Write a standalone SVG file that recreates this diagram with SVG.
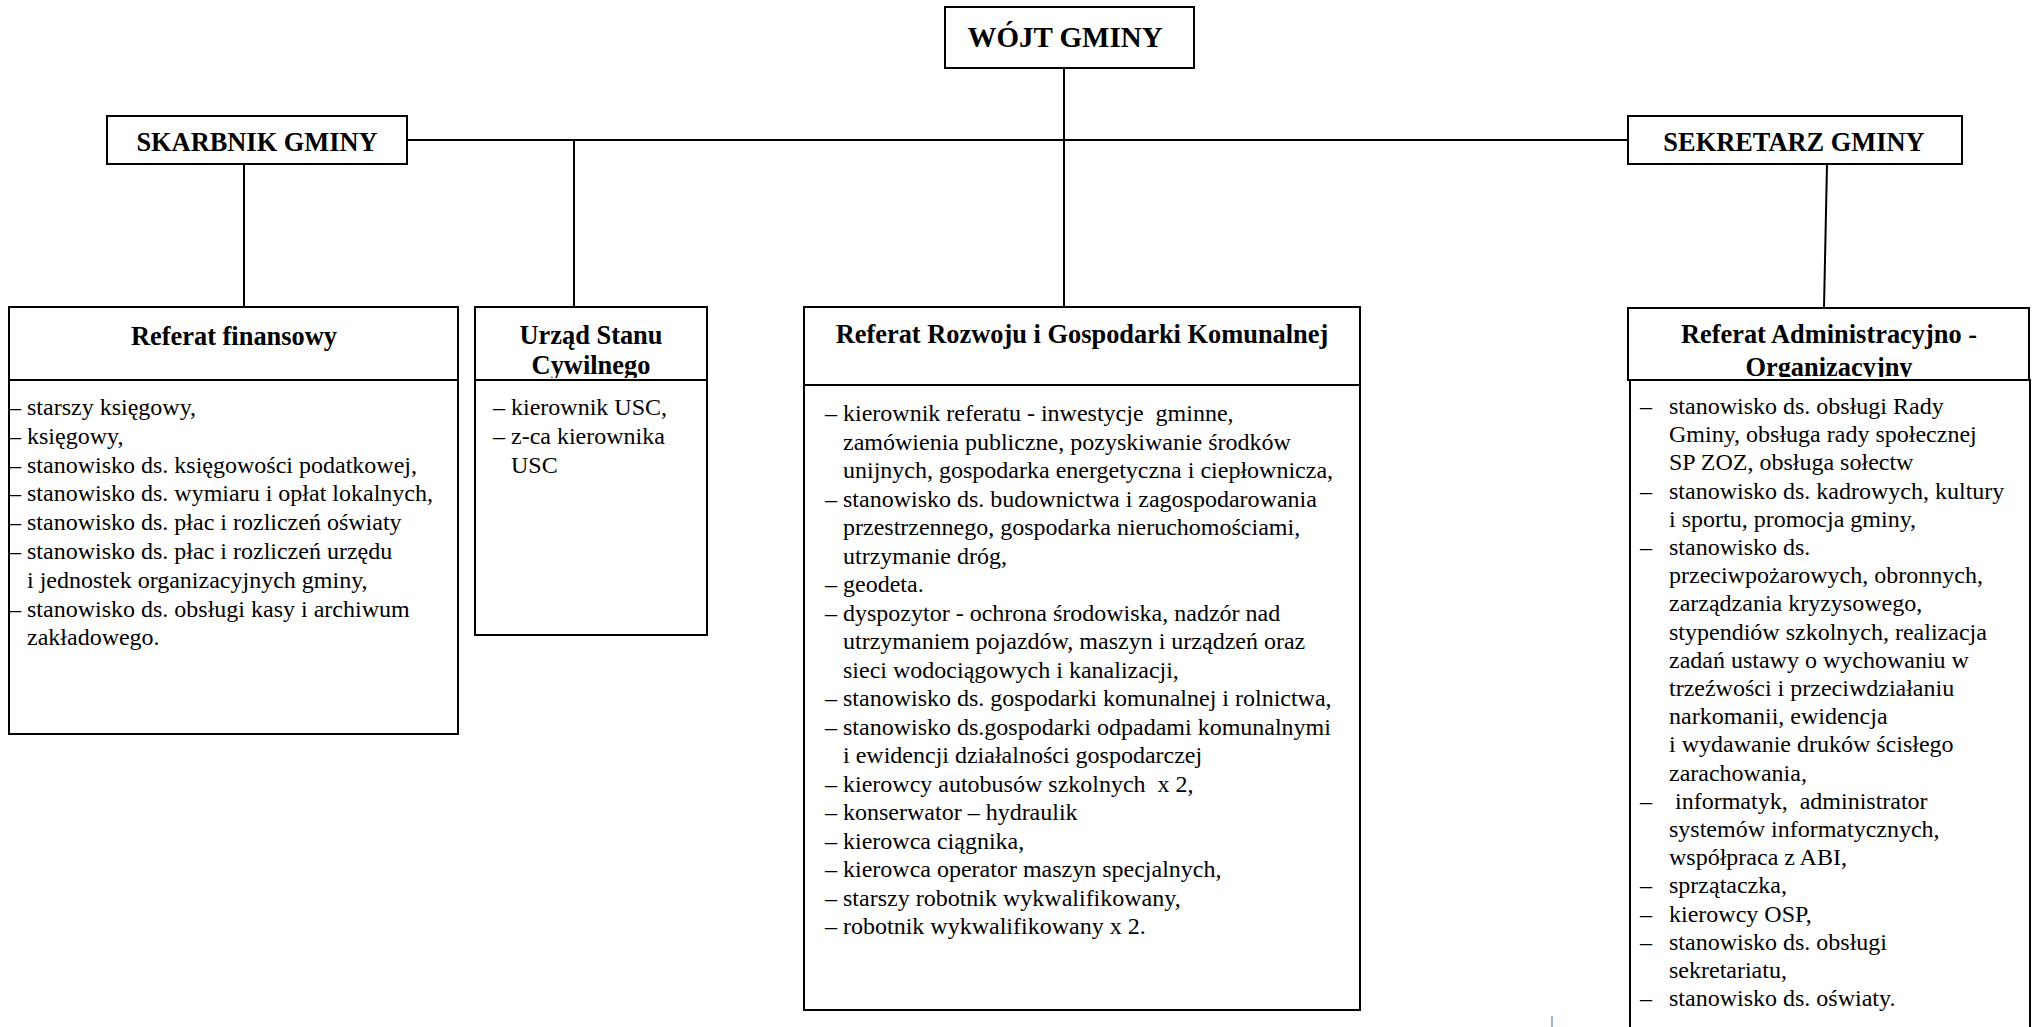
<svg xmlns="http://www.w3.org/2000/svg" width="2033" height="1027" viewBox="0 0 2033 1027">
<style>
.box{fill:#fff;stroke:#000;stroke-width:2}
.ln{stroke:#000;stroke-width:2;fill:none}
.t{font-family:"Liberation Serif","Times New Roman",serif;font-size:24px;fill:#000;white-space:pre}
.h{font-family:"Liberation Serif","Times New Roman",serif;font-size:26.4px;font-weight:bold;fill:#000;text-anchor:middle}
.top{font-family:"Liberation Serif","Times New Roman",serif;font-size:29px;font-weight:bold;fill:#000;text-anchor:middle}
</style>
<defs>
<clipPath id="clipUsc"><rect x="475" y="300" width="232" height="78"/></clipPath>
<clipPath id="clipAdm"><rect x="1628" y="300" width="401" height="77"/></clipPath>
</defs>
<rect width="2033" height="1027" fill="#fff"/>
<g id="connectors">
<line class="ln" x1="1064" y1="68" x2="1064" y2="307"/>
<line class="ln" x1="407" y1="140" x2="1628" y2="140"/>
<line class="ln" x1="244" y1="164" x2="244" y2="307"/>
<line class="ln" x1="574" y1="140" x2="574" y2="307"/>
<line class="ln" x1="1827" y1="164" x2="1824" y2="308"/>
</g>
<g id="wojt">
<rect class="box" x="945" y="7" width="249" height="61"/>
<text class="top" x="1065" y="47">WÓJT GMINY</text>
</g>
<g id="skarbnik">
<rect class="box" x="107" y="116" width="300" height="48"/>
<text class="h" x="257" y="151">SKARBNIK GMINY</text>
</g>
<g id="sekretarz">
<rect class="box" x="1628" y="116" width="334" height="48"/>
<text class="h" x="1794" y="151">SEKRETARZ GMINY</text>
</g>
<g id="referat-finansowy">
<rect class="box" x="9" y="307" width="449" height="73"/>
<text class="h" x="234" y="345">Referat finansowy</text>
<rect class="box" x="9" y="380" width="449" height="354"/>
<text class="t">
<tspan x="9" y="415">– starszy księgowy,</tspan>
<tspan x="9" y="443.8">– księgowy,</tspan>
<tspan x="9" y="472.6">– stanowisko ds. księgowości podatkowej,</tspan>
<tspan x="9" y="501.4">– stanowisko ds. wymiaru i opłat lokalnych,</tspan>
<tspan x="9" y="530.2">– stanowisko ds. płac i rozliczeń oświaty</tspan>
<tspan x="9" y="559">– stanowisko ds. płac i rozliczeń urzędu</tspan>
<tspan x="27" y="587.8">i jednostek organizacyjnych gminy,</tspan>
<tspan x="9" y="616.6">– stanowisko ds. obsługi kasy i archiwum</tspan>
<tspan x="27" y="645.4">zakładowego.</tspan>
</text>
</g>
<g id="urzad-stanu-cywilnego">
<rect class="box" x="475" y="307" width="232" height="73"/>
<text class="h" clip-path="url(#clipUsc)"><tspan x="591" y="344">Urząd Stanu</tspan><tspan x="591" y="374">Cywilnego</tspan></text>
<rect class="box" x="475" y="380" width="232" height="255"/>
<text class="t">
<tspan x="493" y="415">– kierownik USC,</tspan>
<tspan x="493" y="444">– z-ca kierownika</tspan>
<tspan x="511" y="473">USC</tspan>
</text>
</g>
<g id="referat-rozwoju">
<rect class="box" x="804" y="307" width="556" height="78"/>
<text class="h" x="1082" y="343">Referat Rozwoju i Gospodarki Komunalnej</text>
<rect class="box" x="804" y="385" width="556" height="625"/>
<text class="t">
<tspan x="825" y="421">– kierownik referatu - inwestycje  gminne,</tspan>
<tspan x="843" y="449.5">zamówienia publiczne, pozyskiwanie środków</tspan>
<tspan x="843" y="478">unijnych, gospodarka energetyczna i ciepłownicza,</tspan>
<tspan x="825" y="506.5">– stanowisko ds. budownictwa i zagospodarowania</tspan>
<tspan x="843" y="535">przestrzennego, gospodarka nieruchomościami,</tspan>
<tspan x="843" y="563.5">utrzymanie dróg,</tspan>
<tspan x="825" y="592">– geodeta.</tspan>
<tspan x="825" y="620.5">– dyspozytor - ochrona środowiska, nadzór nad</tspan>
<tspan x="843" y="649">utrzymaniem pojazdów, maszyn i urządzeń oraz</tspan>
<tspan x="843" y="677.5">sieci wodociągowych i kanalizacji,</tspan>
<tspan x="825" y="706">– stanowisko ds. gospodarki komunalnej i rolnictwa,</tspan>
<tspan x="825" y="734.5">– stanowisko ds.gospodarki odpadami komunalnymi</tspan>
<tspan x="843" y="763">i ewidencji działalności gospodarczej</tspan>
<tspan x="825" y="791.5">– kierowcy autobusów szkolnych  x 2,</tspan>
<tspan x="825" y="820">– konserwator – hydraulik</tspan>
<tspan x="825" y="848.5">– kierowca ciągnika,</tspan>
<tspan x="825" y="877">– kierowca operator maszyn specjalnych,</tspan>
<tspan x="825" y="905.5">– starszy robotnik wykwalifikowany,</tspan>
<tspan x="825" y="934">– robotnik wykwalifikowany x 2.</tspan>
</text>
</g>
<g id="referat-administracyjno-organizacyjny">
<rect class="box" x="1628" y="308" width="401" height="72"/>
<text class="h" clip-path="url(#clipAdm)"><tspan x="1829" y="343">Referat Administracyjno -</tspan><tspan x="1829" y="376">Organizacyjny</tspan></text>
<rect class="box" x="1630" y="380" width="400" height="700"/>
<text class="t">
<tspan x="1640" y="414">–</tspan><tspan x="1669" y="414">stanowisko ds. obsługi Rady</tspan>
<tspan x="1669" y="442.2">Gminy, obsługa rady społecznej</tspan>
<tspan x="1669" y="470.4">SP ZOZ, obsługa sołectw</tspan>
<tspan x="1640" y="498.6">–</tspan><tspan x="1669" y="498.6">stanowisko ds. kadrowych, kultury</tspan>
<tspan x="1669" y="526.8">i sportu, promocja gminy,</tspan>
<tspan x="1640" y="555">–</tspan><tspan x="1669" y="555">stanowisko ds.</tspan>
<tspan x="1669" y="583.2">przeciwpożarowych, obronnych,</tspan>
<tspan x="1669" y="611.4">zarządzania kryzysowego,</tspan>
<tspan x="1669" y="639.6">stypendiów szkolnych, realizacja</tspan>
<tspan x="1669" y="667.8">zadań ustawy o wychowaniu w</tspan>
<tspan x="1669" y="696">trzeźwości i przeciwdziałaniu</tspan>
<tspan x="1669" y="724.2">narkomanii, ewidencja</tspan>
<tspan x="1669" y="752.4">i wydawanie druków ścisłego</tspan>
<tspan x="1669" y="780.6">zarachowania,</tspan>
<tspan x="1640" y="808.8">–</tspan><tspan x="1675" y="808.8">informatyk,  administrator</tspan>
<tspan x="1669" y="837">systemów informatycznych,</tspan>
<tspan x="1669" y="865.2">współpraca z ABI,</tspan>
<tspan x="1640" y="893.4">–</tspan><tspan x="1669" y="893.4">sprzątaczka,</tspan>
<tspan x="1640" y="921.6">–</tspan><tspan x="1669" y="921.6">kierowcy OSP,</tspan>
<tspan x="1640" y="949.8">–</tspan><tspan x="1669" y="949.8">stanowisko ds. obsługi</tspan>
<tspan x="1669" y="978">sekretariatu,</tspan>
<tspan x="1640" y="1006.2">–</tspan><tspan x="1669" y="1006.2">stanowisko ds. oświaty.</tspan>
</text>
</g>
<rect x="1551" y="1016" width="2" height="11" fill="#9fb3d6"/>
</svg>
